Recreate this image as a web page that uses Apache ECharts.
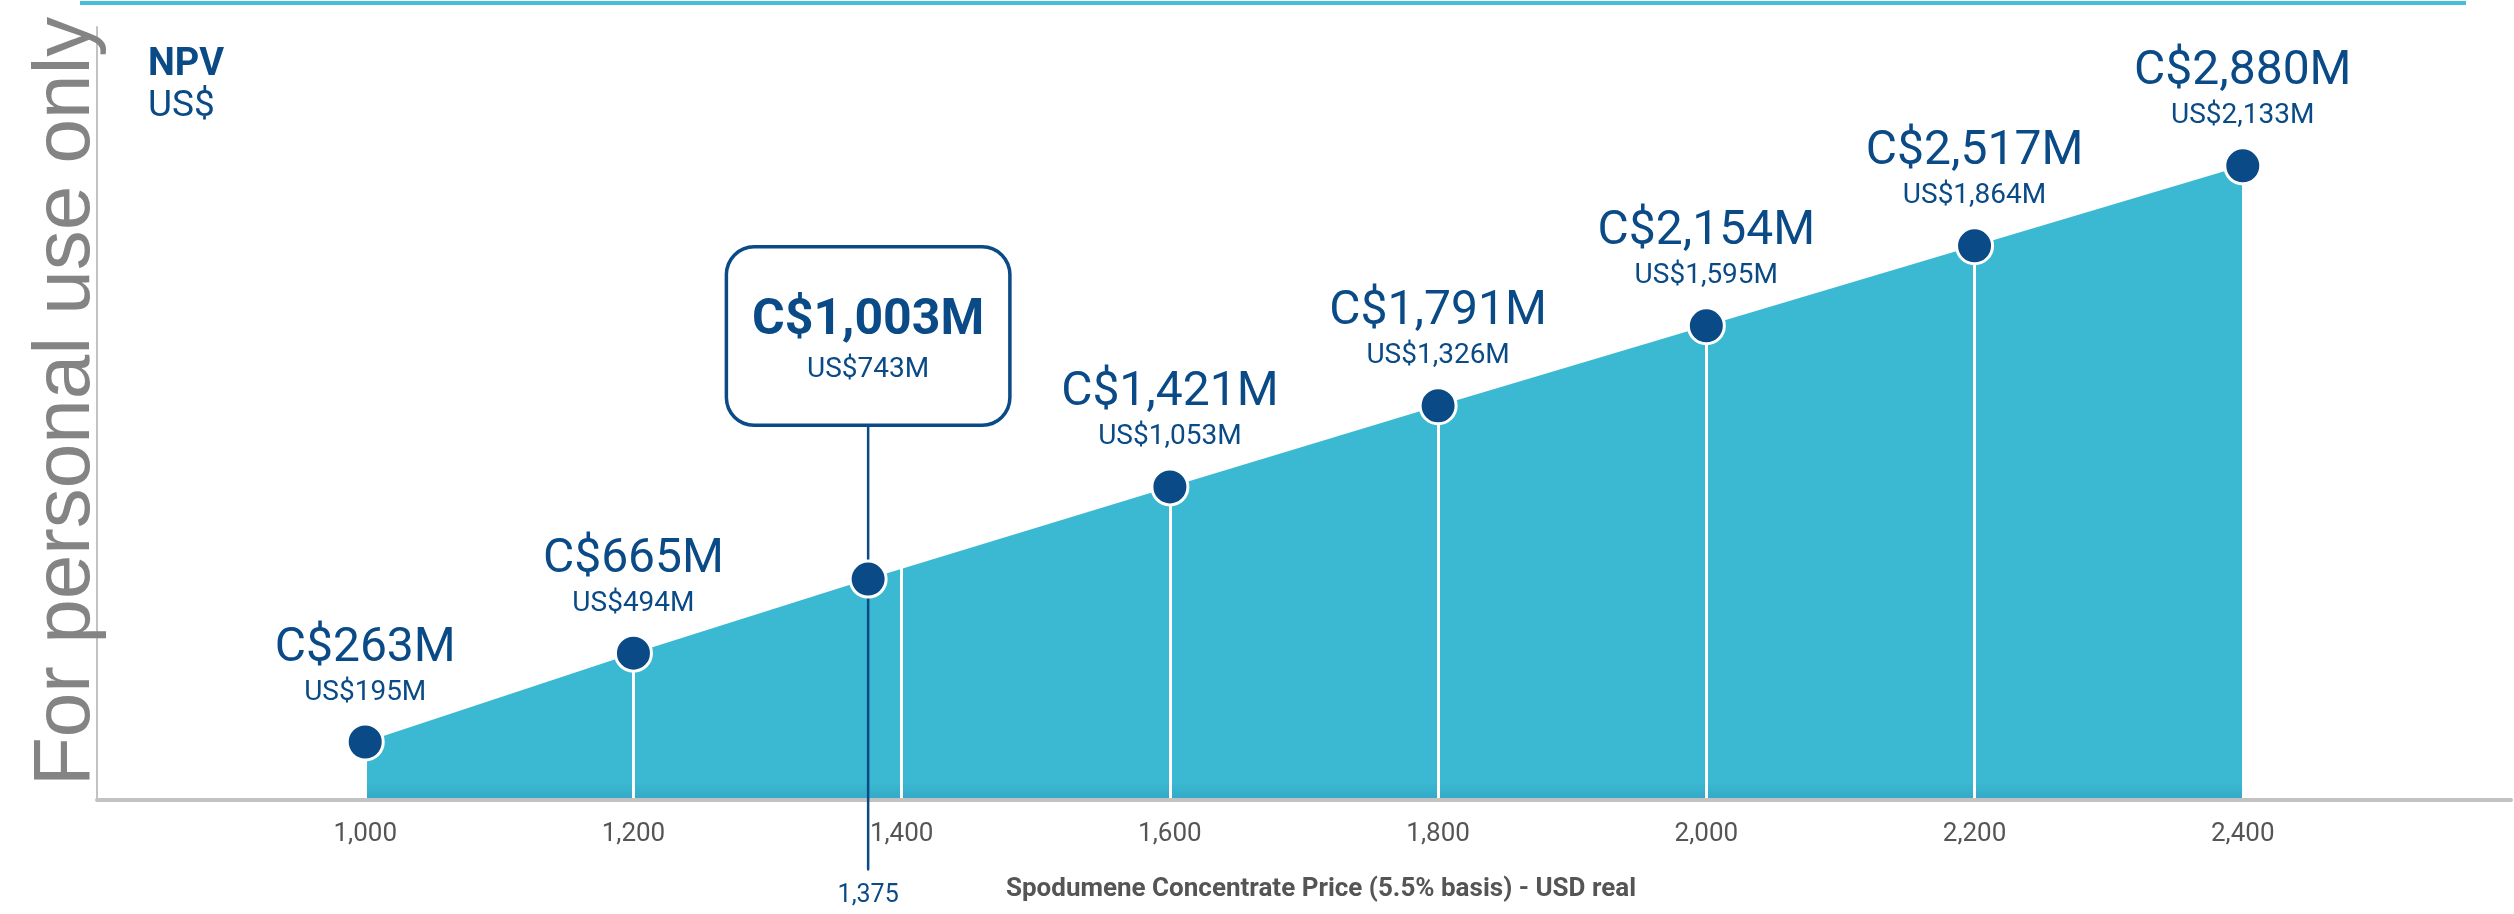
<!DOCTYPE html>
<html>
<head>
<meta charset="utf-8">
<title>NPV sensitivity</title>
<script src="https://cdn.jsdelivr.net/npm/echarts@6/dist/echarts.min.js"></script>
<style>
  html, body { margin: 0; padding: 0; background: #fff; }
  #chart { width: 2514px; height: 914px; }
</style>
</head>
<body>
<div id="chart"></div>
<script>
  // spodumene price (USD/t) and NPV values
  const prices = [1000, 1200, 1375, 1600, 1800, 2000, 2200, 2400];
  const npvUsd = [195, 494, 743, 1053, 1326, 1595, 1864, 2133];
  const npvCad = [263, 665, 1003, 1421, 1791, 2154, 2517, 2880];
  const baseCaseIdx = 2;
  // base case marker line, from below the axis up to the callout box
  const baseCaseLine = [-235, 1300];
  const xMin = 800, xMax = 2600, xStep = 200;
  const yMax = 2600;

  const navy = '#0a4a86';
  const fmt = v => v.toLocaleString('en-US');

  let chart = echarts.init(document.getElementById('chart'));

  let points = prices.map(function (p, i) {
    let item = { value: [p, npvUsd[i]] };
    if (i === baseCaseIdx) {
      item.label = {
        formatter: '{a|C$' + fmt(npvCad[i]) + 'M}\n{b|US$' + fmt(npvUsd[i]) + 'M}',
        distance: 136,
        width: 280,
        align: 'center',
        padding: [44, 0, 35, 0],
        backgroundColor: '#fff',
        borderColor: navy,
        borderWidth: 3.5,
        borderRadius: 26,
        rich: {
          a: { fontFamily: 'Roboto', fontSize: 50, fontWeight: 'bold', color: navy, lineHeight: 58, align: 'center' },
          b: { fontFamily: 'Roboto', fontSize: 28, color: navy, lineHeight: 38, align: 'center' }
        }
      };
    }
    return item;
  });

  chart.setOption({
    animation: false,
    title: {
      text: 'NPV',
      subtext: 'US$',
      left: 143,
      top: 41,
      itemGap: 4,
      textStyle: { fontFamily: 'Roboto', fontSize: 38, fontWeight: 'bold', color: navy },
      subtextStyle: { fontFamily: 'Roboto', fontSize: 37, color: navy }
    },
    grid: { left: 97, right: 3, top: 27, bottom: 114 },
    xAxis: {
      type: 'value',
      min: xMin,
      max: xMax,
      interval: xStep,
      z: 3,
      name: 'Spodumene Concentrate Price (5.5% basis) - USD real',
      nameLocation: 'middle',
      nameGap: 76,
      nameTextStyle: { fontFamily: 'Roboto', fontSize: 26, fontWeight: 'bold', color: '#555', padding: [0, 0, 0, 34] },
      axisLine: { lineStyle: { color: '#c2c2c2', width: 4 } },
      axisTick: { show: false },
      axisLabel: {
        showMinLabel: false,
        showMaxLabel: false,
        margin: 21,
        fontFamily: 'Roboto',
        fontSize: 26,
        color: '#555',
        formatter: fmt
      },
      splitLine: { show: true, showMinLine: false, showMaxLine: false, lineStyle: { color: '#fff', width: 3 } }
    },
    yAxis: {
      type: 'value',
      min: 0,
      max: yMax,
      axisLine: { show: true, lineStyle: { color: '#c2c2c2', width: 2 } },
      axisTick: { show: false },
      axisLabel: { show: false },
      splitLine: { show: false }
    },
    series: [
      {
        name: 'area',
        type: 'line',
        z: 2,
        symbol: 'none',
        data: prices.map((p, i) => [p, npvUsd[i]]),
        lineStyle: { width: 0 },
        areaStyle: {
          opacity: 1,
          color: new echarts.graphic.LinearGradient(0, 0, 0, 1, [
            { offset: 0, color: '#3cb9d2' },
            { offset: 0.97, color: '#3cb9d2' },
            { offset: 1, color: '#33a9c7' }
          ])
        }
      },
      {
        name: 'base case',
        type: 'line',
        z: 4,
        clip: false,
        symbol: 'circle',
        symbolSize: 2,
        itemStyle: { color: navy },
        lineStyle: { color: navy, width: 2.5 },
        data: [
          {
            value: [prices[baseCaseIdx], baseCaseLine[0]],
            label: {
              show: true,
              position: 'bottom',
              distance: 12,
              formatter: fmt(prices[baseCaseIdx]),
              fontFamily: 'Roboto',
              fontSize: 25,
              color: navy
            }
          },
          [prices[baseCaseIdx], baseCaseLine[1]]
        ]
      },
      {
        name: 'npv',
        type: 'scatter',
        z: 5,
        symbolSize: 36,
        itemStyle: { color: navy, borderColor: '#fff', borderWidth: 3, opacity: 1 },
        data: points,
        label: {
          show: true,
          position: 'top',
          distance: 12,
          align: 'center',
          formatter: function (p) {
            let i = p.dataIndex;
            return '{a|C$' + fmt(npvCad[i]) + 'M}\n{b|US$' + fmt(npvUsd[i]) + 'M}';
          },
          rich: {
            a: { fontFamily: 'Roboto', fontSize: 48, color: navy, lineHeight: 52, align: 'center' },
            b: { fontFamily: 'Roboto', fontSize: 28, color: navy, lineHeight: 36, align: 'center' }
          }
        }
      }
    ],
    graphic: [
      {
        type: 'rect',
        z: 10,
        shape: { x: 80, y: 1, width: 2386, height: 4 },
        style: { fill: '#45bed8' }
      },
      {
        type: 'text',
        z: 20,
        x: 107,
        y: 786,
        rotation: Math.PI / 2,
        style: {
          text: 'For personal use only',
          fontFamily: 'Liberation Sans',
          fontSize: 80,
          fill: '#848484',
          align: 'left',
          verticalAlign: 'bottom'
        }
      }
    ]
  });
</script>
</body>
</html>
